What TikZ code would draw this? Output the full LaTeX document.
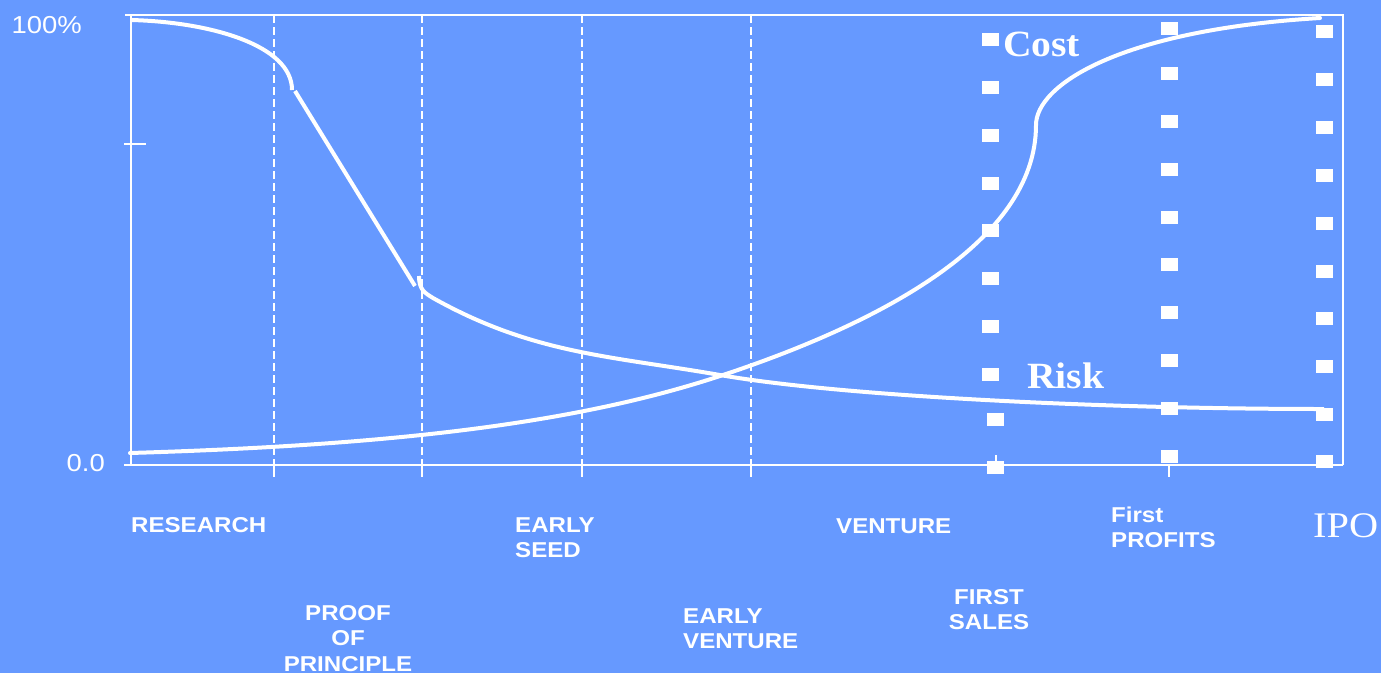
\documentclass[tikz,border=0pt]{standalone}
\usepackage{fontspec}
\setmainfont{Liberation Serif}
\newfontfamily\arialf{Liberation Sans}
\usepackage{graphicx}
\definecolor{bgblue}{RGB}{102,153,255}
\newcommand\sx[1]{\scalebox{1.12}[1]{#1}}
\newcommand\lnsl[1]{\sx{\begin{tabular}{@{}l@{}}#1\end{tabular}}}
\newcommand\lnsc[1]{\sx{\begin{tabular}{@{}c@{}}#1\end{tabular}}}
\tikzset{
  frameline/.style={white, line width=1.5pt},
  phase/.style={white, line width=1.5pt, dash pattern=on 8pt off 4pt},
  curveline/.style={white, line width=4pt},
  sq/.style={fill=white, draw=none, inner sep=0pt, minimum width=17pt, minimum height=13pt},
  lbl/.style={inner sep=0pt, text=white, font=\arialf\bfseries\fontsize{21.5}{25.5}\selectfont},
  axlbl/.style={inner sep=0pt, text=white, font=\arialf\fontsize{24.5}{28}\selectfont},
  curvelbl/.style={inner sep=0pt, text=white, font=\bfseries\fontsize{37}{40}\selectfont},
}
\begin{document}
\begin{tikzpicture}[x=1pt, y=-1pt]
\fill[bgblue] (0,0) rectangle (1381,673);
\useasboundingbox (0,0) rectangle (1381,673);

% frame and axes
\draw[frameline] (131,15) -- (1343,15) -- (1343,465);
\draw[frameline] (131,15) -- (131,465);
\draw[frameline] (124,465) -- (1343,465);
\draw[frameline] (125,15) -- (146,15);
\draw[frameline] (124,144) -- (146,144);
\foreach \xx in {274,422,582,751,1169} \draw[frameline] (\xx,465) -- (\xx,477);
\draw[frameline] (996,455) -- (996,465);

% phase boundaries
\foreach \xx in {274,422,582,751} \draw[phase] (\xx,15) -- (\xx,465);

% axis labels
\node[axlbl, anchor=base east] (top) at (82,33) {\sx{100\%}};
\node[axlbl, anchor=base east] (zero) at (105,471) {\sx{0.0}};

% risk curve
\draw[curveline] (131,20) .. controls (210,22) and (292,45) .. (292,90);
\draw[curveline] (295,91) -- (415,286);
\draw[curveline] (419,276) .. controls (419,290) and (425,293) .. (433,298)
  .. controls (533,354) and (610,355.8) .. (720,375)
  .. controls (840,396) and (1100,409) .. (1324,409);

% cost curve
\draw[curveline, line cap=round] (130,453) .. controls (380,445.5) and (570,425.5) .. (720,376)
  .. controls (870,326.5) and (1036,245) .. (1036,125)
  .. controls (1036,85) and (1120,30) .. (1320,18);

% marker columns
\foreach \yy [count=\i] in {39,87,135,183,230,278,326,374} \node[sq] (a\i) at (990,\yy) {};
\node[sq] (a9) at (995,419) {};
\node[sq] (a10) at (995,467) {};
\foreach \yy [count=\i] in {28,73,121,169,217,264,312,360,408,456} \node[sq] (b\i) at (1169.5,\yy) {};
\foreach \yy [count=\i] in {31,79,127,175,223,271,318,366,414,461} \node[sq] (c\i) at (1324.5,\yy) {};

% curve labels
\node[curvelbl, anchor=base west] (cost) at (1003,56) {\scalebox{1.07}[1]{Cost}};
\node[curvelbl, anchor=base west] (risk) at (1027,388) {\scalebox{1.07}[1]{Risk}};

% stage labels
\node[lbl, anchor=north west] (research) at (131,514.2) {\lnsl{RESEARCH}};
\node[lbl, anchor=north west] (seed) at (515,514.2) {\lnsl{EARLY\\SEED}};
\node[lbl, anchor=north west] (venture) at (836,515.2) {\lnsl{VENTURE}};
\node[lbl, anchor=north west] (profits) at (1111,504.2) {\lnsl{First\\PROFITS}};
\node[lbl, anchor=north] (proof) at (348,602) {\lnsc{PROOF\\OF\\PRINCIPLE}};
\node[lbl, anchor=north west] (earlyv) at (683,605.2) {\lnsl{EARLY\\VENTURE}};
\node[lbl, anchor=north] (sales) at (989,586.2) {\lnsc{FIRST\\SALES}};
\node[anchor=base west, inner sep=0pt, text=white, font=\fontsize{36}{40}\selectfont] (ipo) at (1313,537) {\sx{IPO}};
\end{tikzpicture}
\end{document}
